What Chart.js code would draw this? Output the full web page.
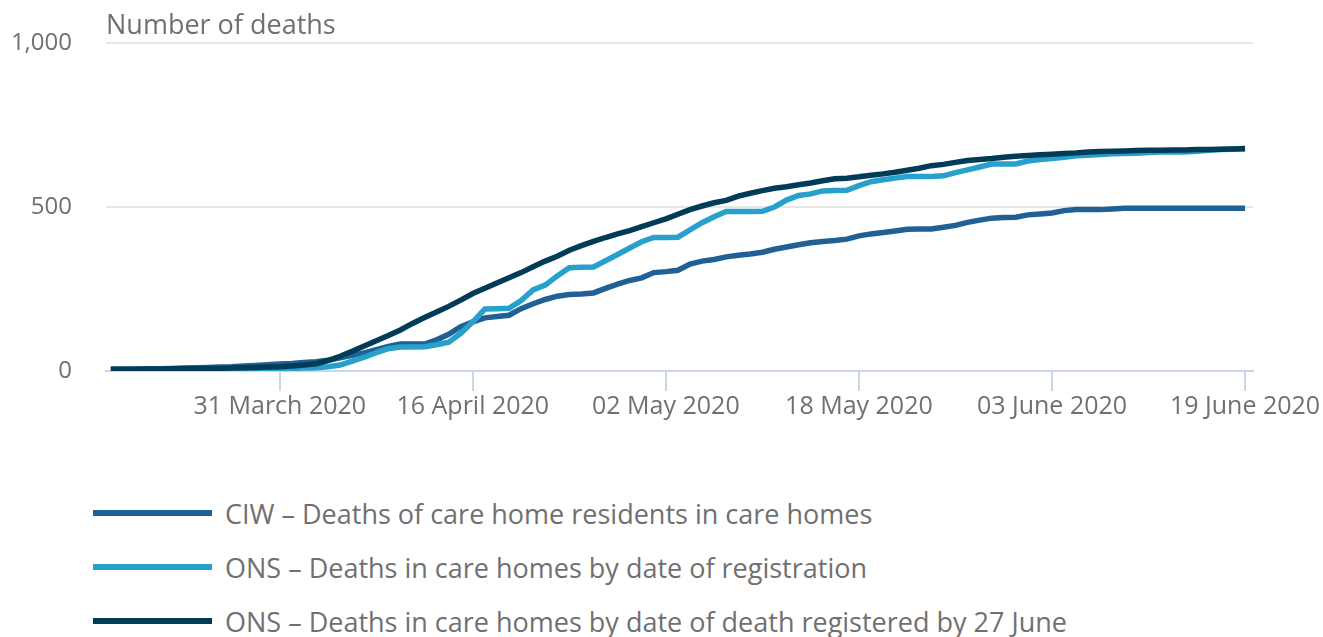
<!DOCTYPE html>
<html>
<head>
<meta charset="utf-8">
<script src="https://cdn.jsdelivr.net/npm/chart.js@4"></script>
<style>
  body { margin: 0; background: #fff; font-family: 'Open Sans', sans-serif; }
  #wrap { position: relative; width: 1323px; height: 637px; }
  #chart-box { position: absolute; left: 0; top: 0; width: 1323px; height: 440px; }
  .leg { position: absolute; left: 93px; height: 30px; display: flex; align-items: center; }
  .leg .sw { width: 119px; height: 6px; margin-right: 13px; }
  .leg span { font-size: 27px; color: #707070; white-space: nowrap; }
</style>
</head>
<body>
<div id="wrap">
  <div id="chart-box"><canvas id="chart"></canvas></div>
  <div id="legend"></div>
</div>
<script>
// days since 17 March 2020, only the labelled ones
const tickDays = [14, 30, 46, 62, 78, 94];
const tickLabels = ['31 March 2020', '16 April 2020', '02 May 2020', '18 May 2020', '03 June 2020', '19 June 2020'];

const seriesNames = [
  'CIW \u2013 Deaths of care home residents in care homes',
  'ONS \u2013 Deaths in care homes by date of registration',
  'ONS \u2013 Deaths in care homes by date of death registered by 27 June',
];
const seriesColors = ['#206095', '#27a0cc', '#003c57'];

// cumulative deaths, one value per day from 17 March to 19 June 2020
const ciwDeaths = [
  5, 5, 6, 6, 7, 8, 9, 10, 11, 12, 13, 15, 17, 19, 21,
  23, 26, 28, 33, 40, 48, 55, 65, 75, 82, 82, 82, 95, 112, 135,
  150, 162, 166, 170, 190, 205, 218, 228, 233, 235, 238, 252, 265, 276, 284,
  300, 303, 307, 326, 335, 340, 348, 353, 357, 362, 371, 378, 385, 391, 395,
  398, 402, 412, 418, 422, 427, 432, 433, 433, 438, 444, 453, 460, 466, 468,
  469, 476, 479, 482, 489, 492, 492, 492, 494, 496, 496, 496, 496, 496, 496,
  496, 496, 496, 496, 496,
];
const onsRegistered = [
  2, 2, 2, 3, 3, 3, 4, 4, 4, 5, 5, 5, 6, 6, 7,
  8, 9, 10, 13, 18, 30, 42, 56, 68, 73, 73, 74, 80, 88, 115,
  150, 189, 190, 191, 215, 247, 262, 290, 315, 316, 317, 336, 355, 375, 394,
  407, 407, 408, 430, 452, 470, 486, 486, 486, 487, 500, 521, 535, 540, 549,
  550, 551, 565, 577, 583, 588, 593, 593, 593, 595, 605, 613, 622, 631, 631,
  631, 640, 645, 648, 652, 656, 658, 660, 662, 663, 664, 666, 668, 668, 668,
  670, 673, 675, 676, 677,
];
const onsByDeathDate = [
  5, 5, 5, 6, 6, 6, 7, 7, 8, 8, 9, 10, 11, 12, 13,
  15, 18, 22, 32, 45, 60, 76, 92, 108, 125, 145, 163, 180, 197, 216,
  236, 252, 268, 284, 300, 318, 335, 350, 368, 382, 395, 407, 418, 428, 440,
  452, 464, 478, 492, 503, 513, 520, 533, 542, 550, 557, 562, 568, 573, 580,
  586, 588, 592, 597, 601, 606, 612, 618, 626, 630, 636, 642, 645, 648, 652,
  655, 657, 659, 661, 663, 665, 668, 669, 670, 671, 672, 673, 673, 674, 674,
  675, 675, 676, 677, 678,
];

const allSeries = [ciwDeaths, onsRegistered, onsByDeathDate];

Chart.defaults.font.family = "'Open Sans', sans-serif";
Chart.defaults.color = '#707070';

const ctx = document.getElementById('chart').getContext('2d');
const chart = new Chart(ctx, {
  type: 'line',
  data: {
    datasets: allSeries.map((vals, k) => ({
      label: seriesNames[k],
      data: vals.map((v, i) => ({ x: i, y: v })),
      borderColor: seriesColors[k],
      backgroundColor: seriesColors[k],
      borderWidth: 5.5,
      pointRadius: 0,
      tension: 0,
      order: 2 - k,
    })),
  },
  options: {
    responsive: true,
    maintainAspectRatio: false,
    animation: false,
    layout: { padding: { left: 0, right: 70, top: 0, bottom: 0 } },
    plugins: {
      legend: { display: false },
      tooltip: { enabled: false },
      title: {
        display: true,
        text: 'Number of deaths',
        align: 'start',
        fullSize: false,
        color: '#707070',
        font: { size: 27, weight: 'normal' },
        padding: { top: 10.6, bottom: 0 },
      },
    },
    scales: {
      x: {
        type: 'linear',
        min: -0.4,
        max: 94.66,
        afterBuildTicks: s => { s.ticks = tickDays.map(v => ({ value: v })); },
        afterFit: s => { s.height = 69; },
        ticks: {
          autoSkip: false,
          maxRotation: 0,
          padding: 1,
          font: { size: 25 },
          color: '#707070',
          callback: v => tickLabels[tickDays.indexOf(v)],
        },
        grid: {
          drawOnChartArea: false,
          drawTicks: true,
          tickLength: 20,
          color: '#ccd6eb',
          lineWidth: 2,
        },
        border: { display: true, color: '#ccd6eb', width: 2 },
      },
      y: {
        min: 0,
        max: 1000,
        afterFit: s => { s.width = 106; },
        ticks: {
          stepSize: 500,
          padding: 0,
          font: { size: 24 },
          color: '#707070',
          callback: v => v.toLocaleString('en-GB'),
        },
        // invisible tick marks keep the labels away from the plot
        grid: {
          color: '#e6e6e6',
          lineWidth: 2,
          drawTicks: true,
          tickLength: 34,
          tickColor: 'rgba(0,0,0,0)',
        },
        border: { display: false },
      },
    },
  },
});

// legend as plain html, one row per series
const rowTops = [498, 552, 606];
const legendEl = document.getElementById('legend');
seriesNames.forEach((name, k) => {
  const row = document.createElement('div');
  row.className = 'leg';
  row.style.top = rowTops[k] + 'px';
  row.innerHTML = `<div class="sw" style="background:${seriesColors[k]}"></div><span>${name}</span>`;
  legendEl.appendChild(row);
});
</script>
</body>
</html>
